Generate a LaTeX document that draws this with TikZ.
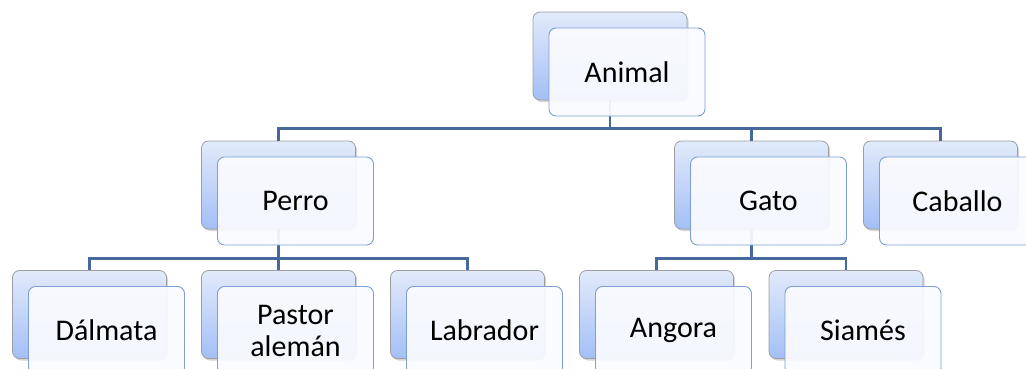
\documentclass[tikz,border=0pt]{standalone}
\usepackage{fontspec}
\setmainfont{Carlito}
\usetikzlibrary{shadows}
\definecolor{backtop}{HTML}{E2EAFB}
\definecolor{backbot}{HTML}{A3BFF6}
\definecolor{backline}{HTML}{9C9EA3}
\definecolor{frontline}{HTML}{7D9FD3}
\definecolor{frontfill}{HTML}{FAFBFF}
\definecolor{busline}{HTML}{46699C}
\begin{document}
\begin{tikzpicture}[x=1pt,y=-1pt,
 back/.style={draw=backline,line width=0.8pt,rounded corners=7pt,top color=backtop,bottom color=backbot,minimum width=154pt,minimum height=88pt,inner sep=0pt,drop shadow={shadow xshift=1.5pt,shadow yshift=-2pt,opacity=0.35}},
 front/.style={draw=frontline,line width=0.9pt,rounded corners=7pt,fill=frontfill,fill opacity=0.93,text opacity=1,minimum width=156pt,minimum height=88pt,inner sep=0pt,align=center,font=\fontsize{30}{32}\selectfont,xshift=17pt,yshift=-16pt},
 bus/.style={draw=busline,line width=2.8pt}]
 \clip (0,0) rectangle (1026,369);
 \useasboundingbox (0,0) rectangle (1026,369);
 \node[back] (animalB) at (610,56) {};
 \node[back] (perroB) at (278.5,185) {};
 \node[back] (gatoB) at (751.5,185) {};
 \node[back] (caballoB) at (940.5,185) {};
 \node[back] (dalmataB) at (89.5,314.5) {};
 \node[back] (pastorB) at (278.5,314.5) {};
 \node[back] (labradorB) at (467.5,314.5) {};
 \node[back] (angoraB) at (656.5,314.5) {};
 \node[back] (siamesB) at (846,314.5) {};
 \draw[bus] (animalB.south) -- ++(0,28) -| (perroB.north);
 \draw[bus] (animalB.south) -- ++(0,28) -| (gatoB.north);
 \draw[bus] (animalB.south) -- ++(0,28) -| (caballoB.north);
 \draw[bus] (perroB.south) -- ++(0,29) -| (dalmataB.north);
 \draw[bus] (perroB.south) -- ++(0,29) -| (pastorB.north);
 \draw[bus] (perroB.south) -- ++(0,29) -| (labradorB.north);
 \draw[bus] (gatoB.south) -- ++(0,29) -| (angoraB.north);
 \draw[bus] (gatoB.south) -- ++(0,29) -| (siamesB.north);
 \node[front] (animal) at (animalB) {Animal};
 \node[front] (perro) at (perroB) {Perro};
 \node[front] (gato) at (gatoB) {Gato};
 \node[front] (caballo) at (caballoB) {Caballo};
 \node[front] (dalmata) at (dalmataB) {Dálmata};
 \node[front] (pastor) at (pastorB) {Pastor\\alemán};
 \node[front] (labrador) at (labradorB) {Labrador};
 \node[front] (angora) at (angoraB) {Angora};
 \node[front] (siames) at (siamesB) {Siamés};
\end{tikzpicture}
\end{document}
